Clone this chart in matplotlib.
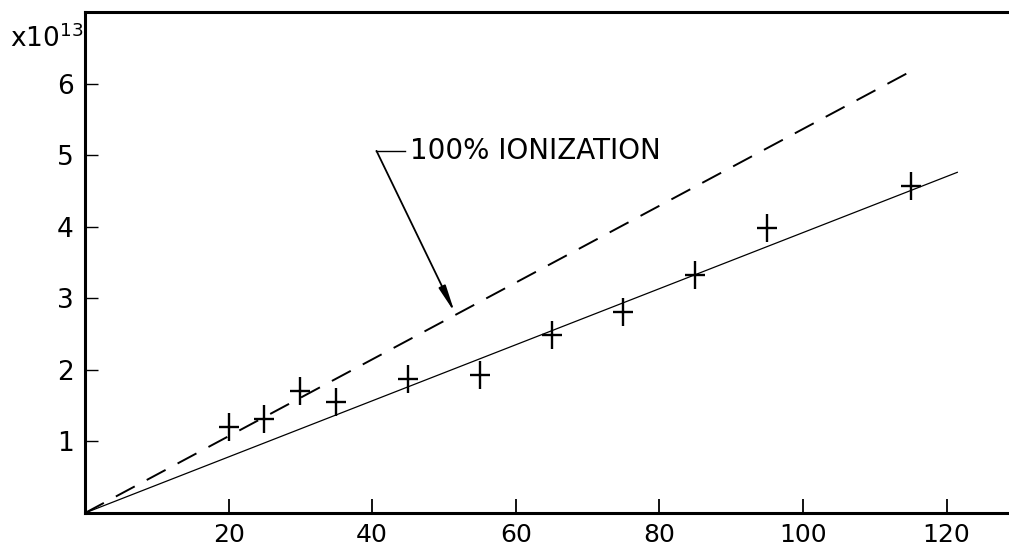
import matplotlib.pyplot as plt
from matplotlib.path import Path

# measured points (x, density in units of 1e13)
x_pts = [20, 25, 30, 35, 45, 55, 65, 75, 85, 95, 115]
y_pts = [1.20, 1.32, 1.71, 1.55, 1.87, 1.93, 2.49, 2.81, 3.32, 3.98, 4.57]

# straight line through the points
fit_x = [0, 121.5]
fit_y = [0, 4.76]

# 100% ionization line
ion_x = [0, 115]
ion_y = [0, 6.17]

xticks = [20, 40, 60, 80, 100, 120]
yticks = [1, 2, 3, 4, 5, 6]

plt.rcParams['font.family'] = ['DejaVu Sans']

fig = plt.figure(figsize=(10.09, 5.54), dpi=100)
ax = fig.add_axes([85/1009, 41/554, 924/1009, 501/554])

# tall cross marker, vertical arm longer than the horizontal one
cross = Path([(-0.37, 0), (0.37, 0), (0, -0.5), (0, 0.5)],
             [Path.MOVETO, Path.LINETO, Path.MOVETO, Path.LINETO])

ax.plot(fit_x, fit_y, color='black', lw=0.9)
ax.plot(ion_x, ion_y, color='black', lw=1.4, dashes=(11, 7))
ax.plot(x_pts, y_pts, linestyle='none', marker=cross, markersize=20,
        markeredgewidth=1.7, color='black')

# label with its leader and arrow
ax.plot([40.6, 44.6], [5.06, 5.06], color='black', lw=1.0)
ax.annotate('', xy=(51.5, 2.80), xytext=(40.6, 5.06),
            arrowprops=dict(arrowstyle='-|>,head_length=1.6,head_width=0.22',
                            lw=1.3, color='black', shrinkA=0, shrinkB=0))
ax.text(45.3, 5.06, '100% IONIZATION', fontsize=20, va='center', ha='left')

ax.set_xlim(0, 128.7)
ax.set_ylim(0, 7.0)
ax.set_xticks(xticks)
ax.set_yticks(yticks)
ax.tick_params(axis='x', direction='in', length=10, width=1.3, pad=7, labelsize=18)
ax.tick_params(axis='y', direction='in', length=9, width=1.0, pad=8, labelsize=19)

ax.spines['right'].set_visible(False)
for s in ['left', 'top', 'bottom']:
    ax.spines[s].set_linewidth(2.2)

fig.text(10/1009, 1 - 47/554, 'x10$^{13}$', fontsize=19, ha='left', va='baseline')

fig.savefig('out.png', dpi=100)
